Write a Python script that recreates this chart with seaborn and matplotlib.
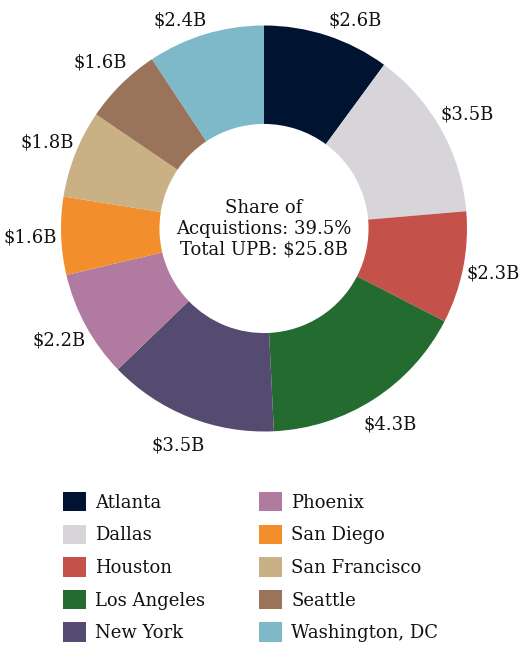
import numpy as np
import matplotlib
matplotlib.use("Agg")
import matplotlib.pyplot as plt
from matplotlib.patches import Patch
import seaborn as sns

cities = ["Atlanta", "Dallas", "Houston", "Los Angeles", "New York",
          "Phoenix", "San Diego", "San Francisco", "Seattle", "Washington, DC"]
upb = [2.6, 3.5, 2.3, 4.3, 3.5, 2.2, 1.6, 1.8, 1.6, 2.4]
value_labels = ["$2.6B", "$3.5B", "$2.3B", "$4.3B", "$3.5B",
                "$2.2B", "$1.6B", "$1.8B", "$1.6B", "$2.4B"]
colors = ["#001330", "#d8d5da", "#c5524a", "#236b2e", "#554a70",
          "#b07aa1", "#f28e2b", "#c9b185", "#9a735b", "#7eb9c9"]
center_text = "Share of\nAcquistions: 39.5%\nTotal UPB: $25.8B"

sns.set_theme(style="white")
plt.rcParams["font.family"] = ["DejaVu Serif"]
palette = sns.color_palette(colors)

W, H, DPI = 519, 646, 100
fig = plt.figure(figsize=(W / DPI, H / DPI), dpi=DPI)
ax = fig.add_axes([0, 0, 1, 1])

cx, cy, R = 264.0, 228.5, 203.0  # pixel layout of the donut
wedges, texts = ax.pie(upb, colors=palette, labels=value_labels, startangle=90,
                       counterclock=False, labeldistance=1.15, radius=1.0,
                       wedgeprops=dict(width=0.485, linewidth=0),
                       textprops=dict(fontsize=13, color="#111111"))
ax.set_aspect("auto")
ax.set_xlim(-cx / R, (W - cx) / R)
ax.set_ylim(-(H - cy) / R, cy / R)
ax.axis("off")

ymax = 1.027
for t in texts:
    x, y = t.get_position()
    t.set_horizontalalignment("center")
    t.set_verticalalignment("center")
    if y > ymax:
        t.set_position((x * 1.25, ymax))

ax.text(0, 0, center_text, ha="center", va="center", fontsize=13,
        color="#111111", linespacing=1.2)

handles = [Patch(facecolor=c, edgecolor="none") for c in palette]
leg = fig.legend(handles, cities, ncol=2, loc="upper left",
                 bbox_to_anchor=(63 / W, 1 - 492 / H), frameon=False,
                 fontsize=13, handlelength=1.28, handleheight=1.28,
                 handletextpad=0.5, labelspacing=0.71, columnspacing=3.0,
                 borderpad=0, borderaxespad=0)
for t in leg.get_texts():
    t.set_color("#111111")

fig.savefig("out.png", dpi=DPI)
